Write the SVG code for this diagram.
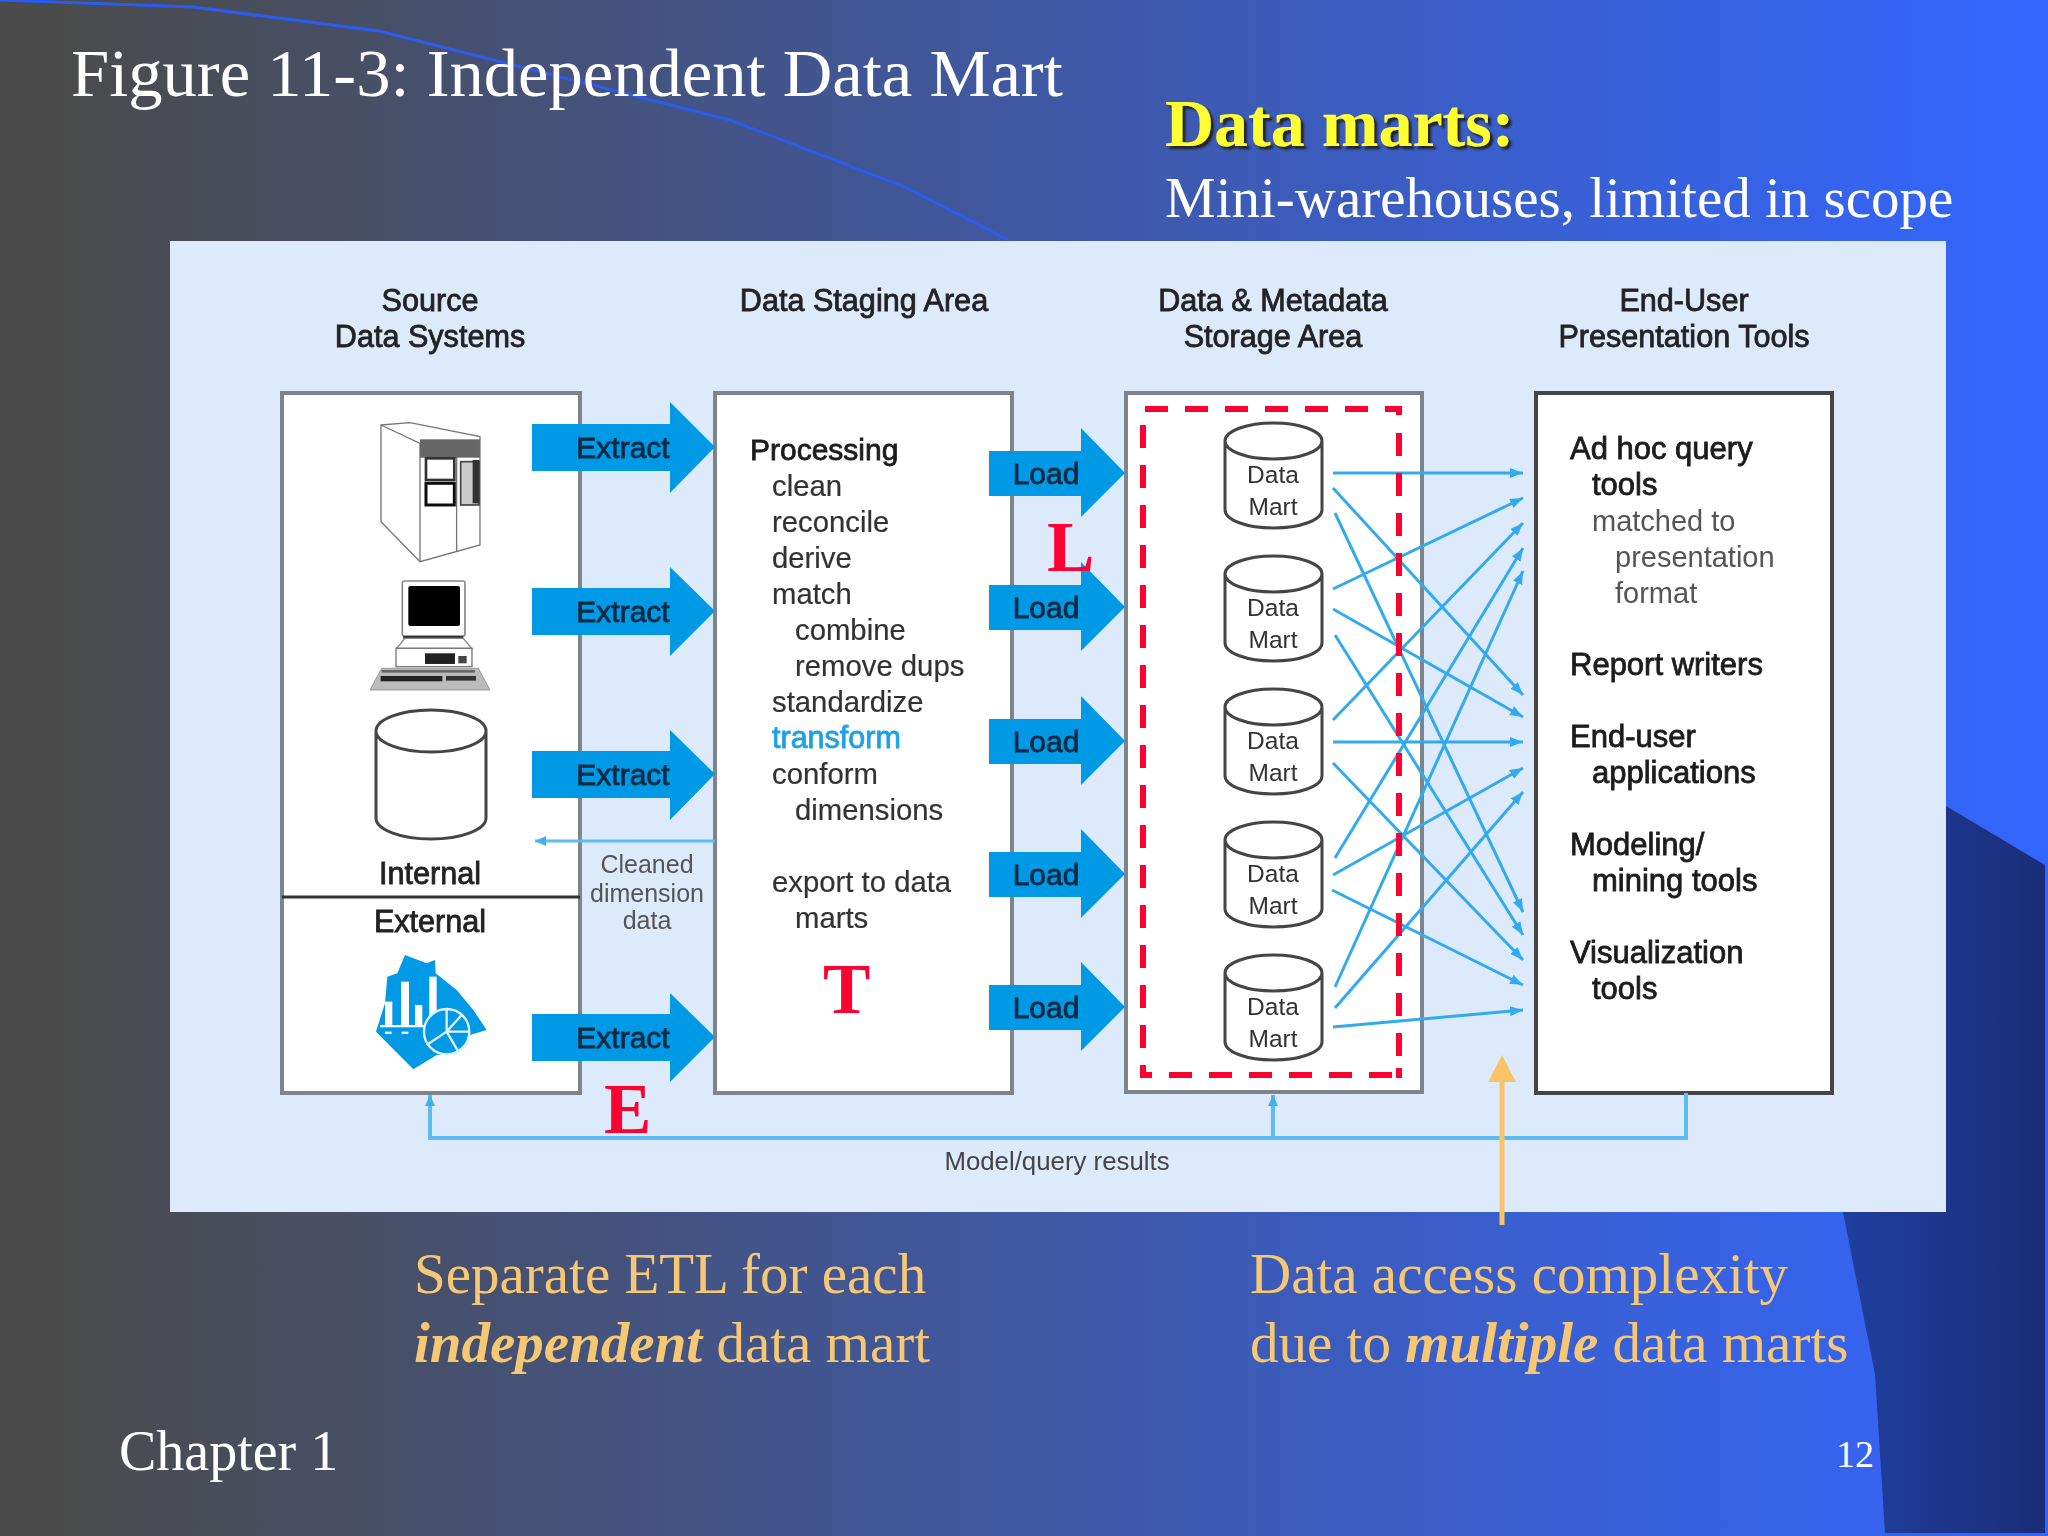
<svg xmlns="http://www.w3.org/2000/svg" width="2048" height="1536" viewBox="0 0 2048 1536">
<defs>
<linearGradient id="bg" x1="0" y1="0" x2="1" y2="0"><stop offset="0" stop-color="#4b4b4b"/><stop offset="0.03" stop-color="#4b4b4b"/><stop offset="1" stop-color="#3366ff"/></linearGradient>
<linearGradient id="dk" x1="0" y1="0" x2="1" y2="0"><stop offset="0" stop-color="#1f3f9e"/><stop offset="1" stop-color="#1a2d78"/></linearGradient>
<filter id="soft" filterUnits="userSpaceOnUse" x="170" y="241" width="1776" height="971"><feGaussianBlur stdDeviation="0.7"/></filter>
<filter id="sh" x="-5%" y="-10%" width="110%" height="125%"><feDropShadow dx="3" dy="3" stdDeviation="0.8" flood-color="#222222"/></filter>
<marker id="ah" markerUnits="userSpaceOnUse" markerWidth="14" markerHeight="14" refX="13" refY="7" orient="auto"><path d="M0 2L13 7L0 12Z" fill="#33aaee"/></marker>
<marker id="ahb" markerUnits="userSpaceOnUse" markerWidth="12" markerHeight="12" refX="11" refY="6" orient="auto"><path d="M0 1L11 6L0 11Z" fill="#40b0f0"/></marker>
</defs>
<style>
.st{font-family:"Liberation Serif","Times New Roman",serif}
.sa{font-family:"Liberation Sans",Arial,sans-serif}
.h{font-size:30.600px;fill:#222;stroke:#222;stroke-width:.8px;text-anchor:middle}
.p{font-size:29.300px;fill:#333;stroke:#333;stroke-width:.2px}
.b{font-size:31px;fill:#1c1c1c;stroke:#1c1c1c;stroke-width:.8px}
.g{font-size:29px;fill:#555}
.ar{font-size:30px;fill:#0b2b44;stroke:#0b2b44;stroke-width:.8px;text-anchor:middle}
.dm{font-size:24.500px;fill:#333;text-anchor:middle}
.box{fill:#fff;stroke:#7d848c;stroke-width:4px}
.cyl{fill:#fff;stroke:#444;stroke-width:3px}
.bl{fill:#0099e6}
.ln{fill:none;stroke:#33aaee;stroke-width:3px;marker-end:url(#ah)}
.fb{fill:none;stroke:#5bbcf2;stroke-width:4px}
.rd{fill:none;stroke:#ff0033;stroke-width:6px;stroke-dasharray:23 17}
.red{font-size:71px;font-weight:bold;fill:#ff0033}
.or{font-size:57px;fill:#f7c873}
.wt{fill:#fff}
</style>
<rect width="2048" height="1536" fill="url(#bg)"/>
<polygon points="1946,806 2045,865 2045,1533 1885,1533 1875,1374 1843,1212 1946,1212" fill="url(#dk)"/>
<polyline points="0,0 193,7 379,31 730,120 905,187 1010,241" fill="none" stroke="#2a5cf0" stroke-width="3"/>
<g id="slide-text">
<text class="st wt" x="71" y="96" font-size="68.600">Figure 11-3: Independent Data Mart</text>
<text class="st" x="1165" y="146" font-size="68" font-weight="bold" fill="#ffff33" filter="url(#sh)">Data marts:</text>
<text class="st wt" x="1165" y="217" font-size="57">Mini-warehouses, limited in scope</text>
</g>
<rect id="panel" x="170" y="241" width="1776" height="971" fill="#dceafb"/>
<g filter="url(#soft)">
<g id="source-systems">
<rect class="box" x="282" y="393" width="298" height="700"/>
<line x1="282" y1="897" x2="580" y2="897" stroke="#333" stroke-width="3"/>
<text class="sa h" x="430" y="311">Source</text><text class="sa h" x="430" y="347">Data Systems</text>
<g transform="translate(270 380) scale(.3333)">
<path d="M333 135L420 128L630 170L630 495L450 545L333 425Z" fill="#fff" stroke="#777" stroke-width="4"/>
<path d="M333 135L450 190V545M560 220V515" fill="none" stroke="#777" stroke-width="4"/>
<rect x="450" y="178" width="180" height="55" fill="#666"/>
<rect x="468" y="235" width="85" height="65" fill="#fff" stroke="#333" stroke-width="8"/>
<rect x="468" y="310" width="85" height="65" fill="#fff" stroke="#111" stroke-width="9"/>
<rect x="572" y="245" width="55" height="130" fill="#ccc" stroke="#444" stroke-width="5"/>
<rect x="608" y="240" width="20" height="130" fill="#333"/>
</g>
<g transform="translate(270 380) scale(.3333)">
<rect x="397" y="603" width="188" height="165" rx="6" fill="#fff" stroke="#888" stroke-width="5"/>
<rect x="415" y="618" width="155" height="120" rx="6" fill="#000"/>
<rect x="400" y="768" width="180" height="10" fill="#333"/>
<path d="M405 775L380 805H605L580 775Z" fill="#fff" stroke="#888" stroke-width="4"/>
<rect x="378" y="805" width="228" height="55" fill="#fff" stroke="#777" stroke-width="4"/>
<rect x="465" y="820" width="90" height="32" fill="#222"/>
<rect x="565" y="828" width="25" height="22" fill="#444"/>
<polygon points="335,865 625,865 660,930 300,930" fill="#bbb" stroke="#999" stroke-width="3"/>
<rect x="332" y="888" width="185" height="16" fill="#222"/><rect x="528" y="888" width="90" height="14" fill="#333"/>
<rect x="335" y="870" width="280" height="8" fill="#666"/>
</g>
<path class="cyl" d="M376 731V818A55 21 0 0 0 486 818V731A55 21 0 0 0 376 731A55 21 0 0 0 486 731"/>
<text class="sa h" x="430" y="884">Internal</text>
<text class="sa h" x="430" y="932">External</text>
<g transform="translate(270 720) scale(.3333)">
<polygon class="bl" points="405,705 470,730 495,720 497,760 560,810 610,870 650,930 600,945 560,1000 500,1005 430,1048 318,935 345,850 352,770 382,760"/>
<g fill="#fff"><rect x="393" y="785" width="24" height="130"/><rect x="345" y="845" width="22" height="70"/><rect x="435" y="855" width="22" height="60"/><rect x="478" y="770" width="22" height="125"/><rect x="330" y="915" width="140" height="7"/><rect x="345" y="935" width="20" height="7"/><rect x="395" y="935" width="20" height="7"/></g>
<circle class="bl" cx="530" cy="935" r="68" stroke="#dff1fc" stroke-width="7"/>
<path d="M530 935L575 885M530 935V868M530 935L470 975M530 935L565 995M530 935H600" stroke="#dff1fc" stroke-width="7" fill="none"/>
</g>
</g>
<g id="staging-area">
<rect class="box" x="715" y="393" width="297" height="700"/>
<text class="sa h" x="864" y="311">Data Staging Area</text>
<text class="sa b" x="750" y="460" style="font-size:30px">Processing</text>
<text class="sa p" x="772" y="496">clean</text>
<text class="sa p" x="772" y="532">reconcile</text>
<text class="sa p" x="772" y="568">derive</text>
<text class="sa p" x="772" y="604">match</text>
<text class="sa p" x="795" y="640">combine</text>
<text class="sa p" x="795" y="676">remove dups</text>
<text class="sa p" x="772" y="712">standardize</text>
<text class="sa b" x="772" y="748" style="fill:#1ea0e6;stroke:#1ea0e6;font-size:30.500px">transform</text>
<text class="sa p" x="772" y="784">conform</text>
<text class="sa p" x="795" y="820">dimensions</text>
<text class="sa p" x="772" y="892">export to data</text>
<text class="sa p" x="795" y="928">marts</text>
</g>
<g id="storage-area">
<rect class="box" x="1126" y="393" width="296" height="699"/>
<text class="sa h" x="1273" y="311">Data &amp; Metadata</text><text class="sa h" x="1273" y="347">Storage Area</text>
</g>
<g id="presentation-tools">
<rect class="box" x="1536" y="393" width="296" height="700" style="stroke:#444"/>
<text class="sa h" x="1684" y="311">End-User</text><text class="sa h" x="1684" y="347">Presentation Tools</text>
<text class="sa b" x="1570" y="459">Ad hoc query</text>
<text class="sa b" x="1592" y="495">tools</text>
<text class="sa g" x="1592" y="531">matched to</text>
<text class="sa g" x="1615" y="567">presentation</text>
<text class="sa g" x="1615" y="603">format</text>
<text class="sa b" x="1570" y="675">Report writers</text>
<text class="sa b" x="1570" y="747">End-user</text>
<text class="sa b" x="1592" y="783">applications</text>
<text class="sa b" x="1570" y="855">Modeling/</text>
<text class="sa b" x="1592" y="891">mining tools</text>
<text class="sa b" x="1570" y="963">Visualization</text>
<text class="sa b" x="1592" y="999">tools</text>
</g>
<g id="etl-arrows">
<g id="extract-1"><polygon class="bl" points="532,424 670,424 670,402 715,447 670,493 670,471 532,471"/><text class="sa ar" x="623" y="458">Extract</text></g>
<g id="extract-2"><polygon class="bl" points="532,588 670,588 670,567 715,611 670,656 670,635 532,635"/><text class="sa ar" x="623" y="622">Extract</text></g>
<g id="extract-3"><polygon class="bl" points="532,751 670,751 670,730 715,774 670,820 670,798 532,798"/><text class="sa ar" x="623" y="785">Extract</text></g>
<g id="extract-4"><polygon class="bl" points="532,1014 670,1014 670,993 715,1037 670,1082 670,1061 532,1061"/><text class="sa ar" x="623" y="1048">Extract</text></g>
<g id="load-1"><polygon class="bl" points="989,451 1081,451 1081,428 1125,473 1081,517 1081,496 989,496"/><text class="sa ar" x="1046" y="484">Load</text></g>
<g id="load-2"><polygon class="bl" points="989,585 1081,585 1081,562 1125,607 1081,651 1081,630 989,630"/><text class="sa ar" x="1046" y="618">Load</text></g>
<g id="load-3"><polygon class="bl" points="989,719 1081,719 1081,696 1125,741 1081,785 1081,764 989,764"/><text class="sa ar" x="1046" y="752">Load</text></g>
<g id="load-4"><polygon class="bl" points="989,852 1081,852 1081,829 1125,874 1081,918 1081,897 989,897"/><text class="sa ar" x="1046" y="885">Load</text></g>
<g id="load-5"><polygon class="bl" points="989,985 1081,985 1081,962 1125,1007 1081,1051 1081,1030 989,1030"/><text class="sa ar" x="1046" y="1018">Load</text></g>
</g>
<g id="data-marts">
<g id="mart-1"><path class="cyl" d="M1225 441V510A48.500 18 0 0 0 1322 510V441A48.500 18 0 0 0 1225 441A48.500 18 0 0 0 1322 441"/><text class="sa dm" x="1273" y="483">Data</text><text class="sa dm" x="1273" y="515">Mart</text></g>
<g id="mart-2"><path class="cyl" d="M1225 574V643A48.500 18 0 0 0 1322 643V574A48.500 18 0 0 0 1225 574A48.500 18 0 0 0 1322 574"/><text class="sa dm" x="1273" y="616">Data</text><text class="sa dm" x="1273" y="648">Mart</text></g>
<g id="mart-3"><path class="cyl" d="M1225 707V776A48.500 18 0 0 0 1322 776V707A48.500 18 0 0 0 1225 707A48.500 18 0 0 0 1322 707"/><text class="sa dm" x="1273" y="749">Data</text><text class="sa dm" x="1273" y="781">Mart</text></g>
<g id="mart-4"><path class="cyl" d="M1225 840V909A48.500 18 0 0 0 1322 909V840A48.500 18 0 0 0 1225 840A48.500 18 0 0 0 1322 840"/><text class="sa dm" x="1273" y="882">Data</text><text class="sa dm" x="1273" y="914">Mart</text></g>
<g id="mart-5"><path class="cyl" d="M1225 973V1042A48.500 18 0 0 0 1322 1042V973A48.500 18 0 0 0 1225 973A48.500 18 0 0 0 1322 973"/><text class="sa dm" x="1273" y="1015">Data</text><text class="sa dm" x="1273" y="1047">Mart</text></g>
</g>
<g id="connectors">
<path class="ln" d="M1333 473L1523 473"/><path class="ln" d="M1333 488L1523 695"/><path class="ln" d="M1335 513L1523 912"/>
<path class="ln" d="M1333 589L1523 498"/><path class="ln" d="M1333 609L1523 717"/><path class="ln" d="M1335 635L1523 935"/>
<path class="ln" d="M1333 720L1523 523"/><path class="ln" d="M1333 742L1523 742"/><path class="ln" d="M1333 763L1523 960"/>
<path class="ln" d="M1335 858L1523 548"/><path class="ln" d="M1333 875L1523 768"/><path class="ln" d="M1332 890L1523 985"/>
<path class="ln" d="M1335 987L1523 571"/><path class="ln" d="M1335 1008L1523 792"/><path class="ln" d="M1333 1027L1523 1010"/>
<path d="M715 841H535" class="fb" style="stroke-width:3px" marker-end="url(#ahb)"/>
<path class="fb" d="M1686 1093V1138H430V1095" marker-end="url(#ahb)"/>
<path class="fb" d="M1273 1138V1095" marker-end="url(#ahb)"/>
</g>
<g id="mart-boundary">
<path class="rd" d="M1145 409H1402"/><path class="rd" d="M1143 425V1075"/><path class="rd" d="M1399 433V1060"/><path class="rd" d="M1399 409V415" style="stroke-dasharray:none"/>
<path class="rd" d="M1169 1075H1402"/><path class="rd" d="M1140 1075H1152" style="stroke-dasharray:none"/><path class="rd" d="M1399 1068V1078" style="stroke-dasharray:none"/>
</g>
<text class="sa" x="647" y="873" font-size="25" fill="#555" text-anchor="middle">Cleaned</text>
<text class="sa" x="647" y="902" font-size="25" fill="#555" text-anchor="middle">dimension</text>
<text class="sa" x="647" y="929" font-size="25" fill="#555" text-anchor="middle">data</text>
<text class="sa" x="1057" y="1170" font-size="25.800" fill="#444" text-anchor="middle">Model/query results</text>
</g>
<g id="etl-letters">
<text class="st red" x="1047" y="571">L</text>
<text class="st red" x="823" y="1013">T</text>
<text class="st red" x="604" y="1133">E</text>
</g>
<g id="complexity-pointer">
<line x1="1502" y1="1225" x2="1502" y2="1080" stroke="#f9c468" stroke-width="5"/>
<polygon points="1502,1055 1516,1082 1488,1082" fill="#f9c468"/>
</g>
<g id="notes">
<text class="st or" x="414" y="1293">Separate ETL for each</text>
<text class="st or" x="414" y="1362"><tspan font-weight="bold" font-style="italic">independent</tspan> data mart</text>
<text class="st or" x="1250" y="1293">Data access complexity</text>
<text class="st or" x="1250" y="1362">due to <tspan font-weight="bold" font-style="italic">multiple</tspan> data marts</text>
<text class="st wt" x="119" y="1470" font-size="56">Chapter 1</text>
<text class="st wt" x="1836" y="1467" font-size="38">12</text>
</g>
</svg>
